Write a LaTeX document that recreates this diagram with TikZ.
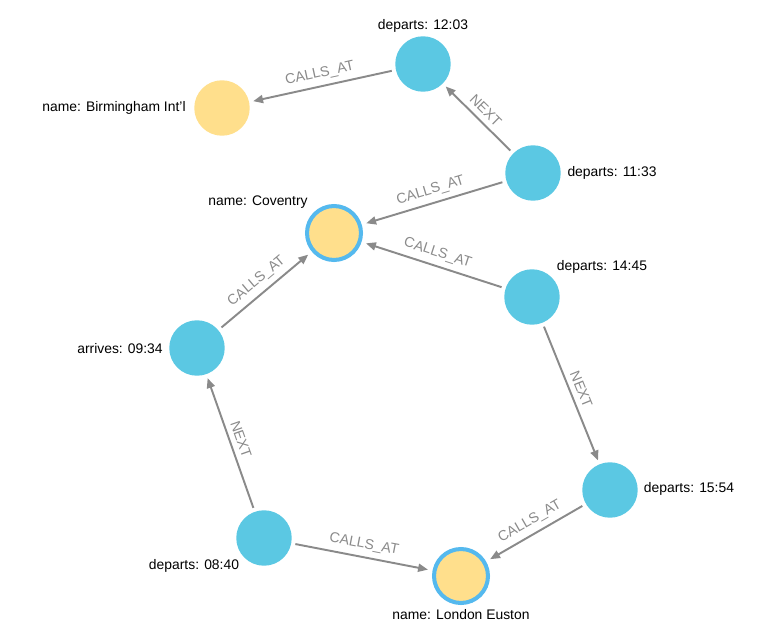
\documentclass[tikz,border=0pt]{standalone}
\usepackage{fontspec}
\setmainfont{Liberation Sans}
\usetikzlibrary{arrows.meta}
\definecolor{stopblue}{HTML}{5BC8E3}
\definecolor{placeyel}{HTML}{FFDF8C}
\definecolor{selring}{HTML}{55B9EE}
\definecolor{relgray}{HTML}{8A8A8A}

\begin{document}
\begin{tikzpicture}[x=0.02cm, y=-0.02cm,
  stop/.style={circle, fill=stopblue, minimum size=1.11cm, inner sep=0pt, outer sep=2.4pt},
  place/.style={circle, fill=placeyel, minimum size=1.11cm, inner sep=0pt, outer sep=2.4pt},
  picked/.style={draw=selring, line width=2.3pt, minimum size=1.08cm, outer sep=3.8pt},
  txt/.style={font=\fontsize{7.9}{9.5}\selectfont, text=black, inner sep=0pt},
  rel/.style={-{Triangle[length=5.6pt, width=4.6pt]}, line width=1.1pt, relgray},
  lbl/.style={font=\fontsize{8.1}{9.5}\selectfont, text=relgray, midway, sloped, above, inner sep=3pt}
]
  \useasboundingbox (0,0) rectangle (772,632);
  % stops and stations
  \foreach \nm/\x/\y in {t1203/423/64, t1133/533/173, t1445/532/297, t0934/197/348, t1554/610/490, t0840/264/538}{
     \node[stop] (\nm) at (\x,\y) {};}
  \node[place] (bhx) at (222,108) {};
  \node[place, picked] (cov) at (334,233) {};
  \node[place, picked] (eus) at (461,576) {};
  % captions
  \foreach \nm/\x/\y/\txt in {c1203/423/26/departs: 12:03, cbhx/114/108/name: Birmingham Int'l,
     c1133/612/173/departs: 11:33, ccov/258/202/name: Coventry, c1445/602/267/departs: 14:45,
     c0934/120/349/arrives: 09:34, c1554/689/489/departs: 15:54, c0840/194/566/departs: 08:40,
     ceus/461/615/name: London Euston}{
     \node[txt] (\nm) at (\x,\y) {\txt};}
  % relationships
  \foreach \a/\b in {t1203/bhx, t1133/cov, t1445/cov, t0934/cov, t1554/eus, t0840/eus}{
     \draw[rel] (\a) -- (\b) node[lbl] {CALLS\_AT};}
  \foreach \a/\b in {t1133/t1203, t0840/t0934, t1445/t1554}{
     \draw[rel] (\a) -- (\b) node[lbl] {NEXT};}
\end{tikzpicture}
\end{document}
